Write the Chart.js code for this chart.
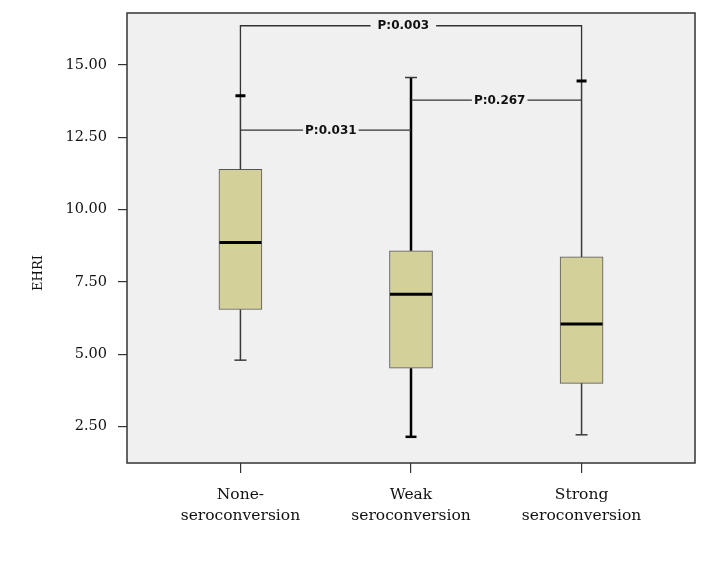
<!DOCTYPE html>
<html>
<head>
<meta charset="utf-8">
<script src="https://cdn.jsdelivr.net/npm/chart.js@4"></script>
<style>
  html, body { margin: 0; padding: 0; background: #fff; }
  #wrap { width: 708px; height: 567px; }
</style>
</head>
<body>
<div id="wrap"><canvas id="ehriChart" width="708" height="567"></canvas></div>
<script>
// --- data ---
const categories = [['None-', 'seroconversion'], ['Weak', 'seroconversion'], ['Strong', 'seroconversion']];
const lowWhisker = [4.80, 2.15, 2.22];
const q1 = [6.55, 4.52, 4.00];
const median = [8.87, 7.08, 6.05];
const q3 = [11.40, 8.58, 8.37];
const highWhisker = [13.94, 14.57, 14.45];
const yTicks = [2.5, 5, 7.5, 10, 12.5, 15];

// pairwise comparisons: [from, to], bracket height, label, label x
const pairs = [[0, 2], [0, 1], [1, 2]];
const bracketLevel = [16.36, 12.75, 13.79];
const pLabels = ['P:0.003', 'P:0.031', 'P:0.267'];
const labelAt = [0.955, 0.53, 1.52];

const BOX_FILL = '#d4d09a';
const LINE = '#3a3a3a';

// whisker / cap styles per group (SPSS export renders them a bit uneven)
const whiskerStyle = [
    { color: LINE, width: 1.5 },
    { color: '#000', width: 2.5 },
    { color: LINE, width: 1.5 }
];
const capStyle = [
    { hi: { c: '#000', w: 3, r: 5 }, lo: { c: LINE, w: 1.5, r: 6 } },
    { hi: { c: LINE, w: 1.5, r: 6 }, lo: { c: '#000', w: 2.5, r: 5.5 } },
    { hi: { c: '#000', w: 3, r: 5 }, lo: { c: LINE, w: 1.5, r: 6 } }
];

const xs = categories.map((_, i) => i);

const datasets = [];

// boxes (floating bars)
datasets.push({
    type: 'bar',
    data: xs.map(i => ({ x: i, y: [q1[i], q3[i]] })),
    backgroundColor: BOX_FILL,
    borderColor: '#555',
    borderWidth: 1,
    borderSkipped: false,
    barThickness: 43,
    order: 6
});

// whiskers
xs.forEach(i => {
    datasets.push({
        type: 'line',
        data: [
            { x: i, y: q3[i] }, { x: i, y: highWhisker[i] }, { x: i, y: null },
            { x: i, y: lowWhisker[i] }, { x: i, y: q1[i] }
        ],
        borderColor: whiskerStyle[i].color,
        borderWidth: whiskerStyle[i].width,
        pointRadius: 0,
        spanGaps: false,
        order: 5
    });
});

// comparison brackets
pairs.forEach(([a, b], k) => {
    const lvl = bracketLevel[k];
    const pts = k === 0
        ? [{ x: a, y: highWhisker[a] }, { x: a, y: lvl }, { x: b, y: lvl }, { x: b, y: highWhisker[b] }]
        : [{ x: a, y: lvl }, { x: b, y: lvl }];
    datasets.push({
        type: 'line',
        data: pts,
        borderColor: '#333',
        borderWidth: 1.3,
        pointRadius: 0,
        order: 4
    });
});

// medians
datasets.push({
    type: 'line',
    data: xs.map(i => ({ x: i, y: median[i] })),
    showLine: false,
    pointStyle: 'line',
    pointRadius: 21,
    pointBorderWidth: 3,
    pointBorderColor: '#000',
    order: 3
});

// whisker caps
datasets.push({
    type: 'line',
    data: xs.flatMap(i => [{ x: i, y: highWhisker[i] }, { x: i, y: lowWhisker[i] }]),
    showLine: false,
    pointStyle: 'line',
    pointRadius: xs.flatMap(i => [capStyle[i].hi.r, capStyle[i].lo.r]),
    pointBorderWidth: xs.flatMap(i => [capStyle[i].hi.w, capStyle[i].lo.w]),
    pointBorderColor: xs.flatMap(i => [capStyle[i].hi.c, capStyle[i].lo.c]),
    order: 2
});

// background, frame, p-value labels and y title
const decor = {
    id: 'decor',
    beforeDatasetsDraw(chart) {
        const { ctx, chartArea: a } = chart;
        ctx.save();
        ctx.fillStyle = '#f0f0f0';
        ctx.fillRect(a.left, a.top, a.right - a.left, a.bottom - a.top);
        ctx.restore();
    },
    afterDatasetsDraw(chart) {
        const { ctx, chartArea: a, scales } = chart;
        ctx.save();
        ctx.font = 'bold 12px "DejaVu Sans", sans-serif';
        ctx.textAlign = 'center';
        ctx.textBaseline = 'middle';
        pLabels.forEach((t, k) => {
            const px = scales.x.getPixelForValue(labelAt[k]);
            const py = scales.y.getPixelForValue(bracketLevel[k]);
            const w = ctx.measureText(t).width;
            ctx.fillStyle = '#f0f0f0';
            ctx.fillRect(px - w / 2 - (k === 0 ? 7 : 2), py - 7, w + (k === 0 ? 14 : 4), 14);
            ctx.fillStyle = '#111';
            ctx.fillText(t, px, py + 0.5);
        });
        ctx.strokeStyle = '#333';
        ctx.lineWidth = 1.5;
        ctx.strokeRect(a.left, a.top, a.right - a.left, a.bottom - a.top);
        // y axis title
        ctx.translate(39, 273);
        ctx.rotate(-Math.PI / 2);
        ctx.font = '13px "DejaVu Serif", serif';
        ctx.fillStyle = '#111';
        ctx.fillText('EHRI', 0, 0);
        ctx.restore();
    }
};

new Chart(document.getElementById('ehriChart'), {
    type: 'bar',
    data: { datasets },
    options: {
        responsive: false,
        animation: false,
        layout: { autoPadding: false, padding: { left: 0, top: 13, right: 13, bottom: 0 } },
        plugins: { legend: { display: false }, tooltip: { enabled: false } },
        scales: {
            x: {
                type: 'linear',
                min: -0.665,
                max: 2.665,
                offset: false,
                afterBuildTicks: s => { s.ticks = xs.map(v => ({ value: v })); },
                afterFit: s => {
                    s.height = 567 - 463;
                    s.paddingLeft = 0; s.paddingRight = 0;
                },
                grid: { offset: false, drawOnChartArea: false, drawTicks: true, tickLength: 10, color: '#333', lineWidth: 1.2 },
                border: { display: false },
                ticks: {
                    color: '#111',
                    padding: 12,
                    maxRotation: 0,
                    autoSkip: false,
                    font: { family: '"DejaVu Serif", serif', size: 15.5, lineHeight: 1.35 },
                    callback: v => categories[v]
                }
            },
            y: {
                type: 'linear',
                min: 1.245,
                max: 16.8,
                afterBuildTicks: s => { s.ticks = yTicks.map(v => ({ value: v })); },
                afterFit: s => {
                    s.width = 127;
                    s.paddingTop = 0; s.paddingBottom = 0;
                },
                grid: { drawOnChartArea: false, drawTicks: true, tickLength: 9, color: '#333', lineWidth: 1.2 },
                border: { display: false },
                ticks: {
                    color: '#111',
                    padding: 11,
                    font: { family: '"DejaVu Serif", serif', size: 14.5 },
                    callback: v => v.toFixed(2)
                }
            }
        }
    },
    plugins: [decor]
});
</script>
</body>
</html>
